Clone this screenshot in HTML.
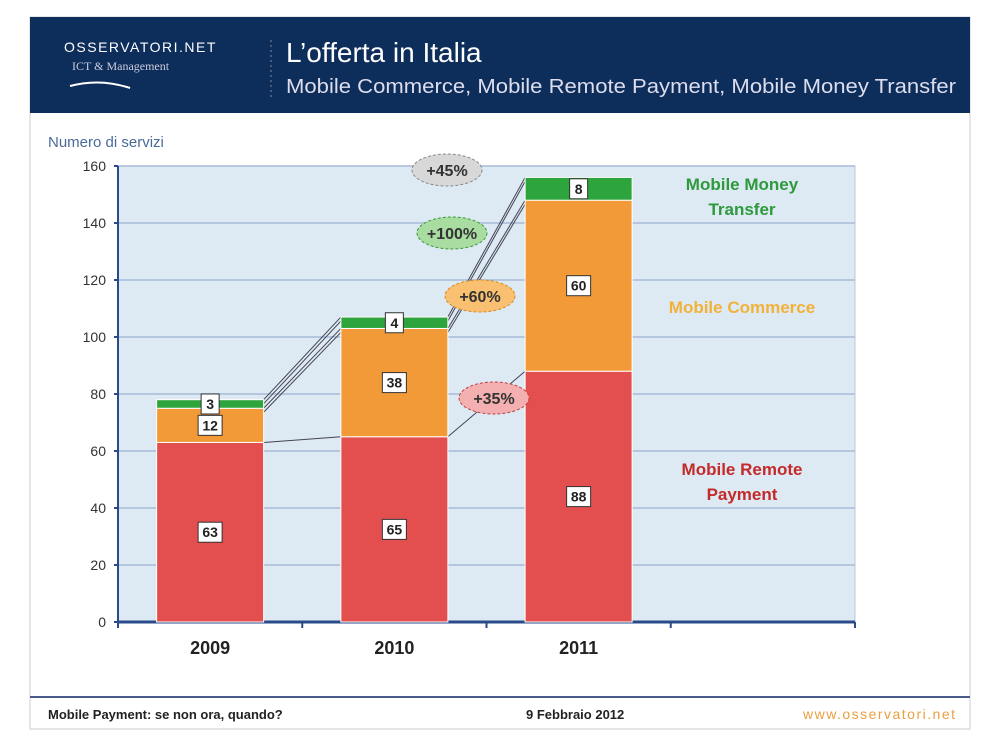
<!DOCTYPE html>
<html><head><meta charset="utf-8"><style>
body{margin:0;width:1000px;height:740px;background:#fff;font-family:"Liberation Sans",sans-serif;overflow:hidden}
</style></head><body>
<svg width="1000" height="740">
<rect x="30" y="17" width="940" height="712" fill="#fff" stroke="#ccc"/>
<rect x="30" y="17" width="940" height="96" fill="#0d2d5a"/>
<text x="64" y="52" fill="#fff" font-size="14" letter-spacing="1.5">OSSERVATORI.NET</text>
<text x="72" y="70" fill="#ccd" font-size="12" font-family="Liberation Serif">ICT &amp; Management</text>
<path d="M70 86 Q100 78 130 88" stroke="#fff" fill="none" stroke-width="2"/>
<line x1="271" y1="40" x2="271" y2="100" stroke="#889" stroke-dasharray="2,3"/>
<text x="286" y="62" fill="#fff" font-size="28">L’offerta in Italia</text>
<text x="286" y="93" fill="#dde" font-size="20" textLength="670" lengthAdjust="spacingAndGlyphs">Mobile Commerce, Mobile Remote Payment, Mobile Money Transfer</text>
<text x="48" y="147" fill="#4a6a9a" font-size="15">Numero di servizi</text>
<g id="chart"></g>
<line x1="30" y1="697" x2="970" y2="697" stroke="#4a5a8a" stroke-width="2"/>
<text x="48" y="719" font-size="13" font-weight="bold" fill="#222">Mobile Payment: se non ora, quando?</text>
<text x="526" y="719" font-size="13" font-weight="bold" fill="#222">9 Febbraio 2012</text>
<text x="803" y="719" font-size="14" fill="#e8a040" textLength="152">www.osservatori.net</text>
</svg>
<script>
const categories=["2009","2010","2011"];
const remote=[63,65,88];
const commerce=[12,38,60];
const money=[3,4,8];
const yTicks=[0,20,40,60,80,100,120,140,160];
const growth=["+45%","+100%","+60%","+35%"];
const NS="http://www.w3.org/2000/svg";
const g=document.getElementById("chart");
const X0=118,X1=855,Y0=622,Y1=166,slot=(X1-X0)/4,bw=107;
const y=v=>Y0-(v/160)*(Y0-Y1);
const cx=i=>X0+slot*(i+0.5);
function el(t,a,txt){const e=document.createElementNS(NS,t);for(const k in a)e.setAttribute(k,a[k]);if(txt!=null)e.textContent=txt;g.appendChild(e);return e;}
let e=el("rect",{x:X0,y:Y1,width:X1-X0,height:Y0-Y1,fill:"#dde9f3",stroke:"#b8c8d8"});


yTicks.forEach(t=>{el("line",{x1:X0,x2:X1,y1:y(t),y2:y(t),stroke:"#a8bcd8","stroke-width":1.5});
e=el("text",{x:X0-12,y:y(t)+5,"text-anchor":"end","font-size":14,fill:"#333"},t);


el("line",{x1:X0-4,x2:X0,y1:y(t),y2:y(t),stroke:"#2a4a8a","stroke-width":2});});
el("line",{x1:X0,x2:X0,y1:Y1,y2:Y0,stroke:"#2a4a8a","stroke-width":2});
el("line",{x1:X0,x2:X1,y1:Y0,y2:Y0,stroke:"#2a4a8a","stroke-width":3});
for(let k=0;k<=4;k++)el("line",{x1:X0+slot*k,x2:X0+slot*k,y1:Y0,y2:Y0+6,stroke:"#2a4a8a","stroke-width":2});
const tops=[remote,remote.map((v,i)=>v+commerce[i]),remote.map((v,i)=>v+commerce[i]+money[i])];
for(let i=0;i<2;i++){tops.forEach((arr,s)=>{
 el("line",{x1:cx(i)+bw/2,y1:y(arr[i]),x2:cx(i+1)-bw/2,y2:y(arr[i+1]),stroke:"#445","stroke-width":1});
 if(s>0)el("line",{x1:cx(i)+bw/2,y1:y(arr[i])+4,x2:cx(i+1)-bw/2,y2:y(arr[i+1])+4,stroke:"#445","stroke-width":1});});}
categories.forEach((c,i)=>{
 const segs=[[remote[i],0,"#e34f4f"],[commerce[i],remote[i],"#f39a38"],[money[i],remote[i]+commerce[i],"#2ea43c"]];
 const names=["remote","commerce","money"];
 segs.forEach((s,j)=>{
  e=el("rect",{x:cx(i)-bw/2,y:y(s[1]+s[0]),width:bw,height:y(s[1])-y(s[1]+s[0]),fill:s[2],stroke:"#fff","stroke-width":1});
  
  
  const my=(y(s[1])+y(s[1]+s[0]))/2;
  const lw=j==2?18:24;
  el("rect",{x:cx(i)-lw/2,y:my-10,width:lw,height:20,fill:"#fff",stroke:"#333"});
  e=el("text",{x:cx(i),y:my+5,"text-anchor":"middle","font-size":14,"font-weight":"bold",fill:"#222"},s[0]);
  
  
 });
 e=el("text",{x:cx(i),y:654,"text-anchor":"middle","font-size":18,"font-weight":"bold",fill:"#222"},c);
 
 
});
const bub=[[447,170,"#d8d8d8","#888"],[452,233,"#a8dca0","#3a9a3a"],[480,296,"#f8c070","#d88a20"],[494,398,"#f4b0b0","#c04040"]];
growth.forEach((t,k)=>{const b=bub[k];
 el("ellipse",{cx:b[0],cy:b[1],rx:35,ry:16,fill:b[2],stroke:b[3],"stroke-dasharray":"3,2"});
 e=el("text",{x:b[0],y:b[1]+6,"text-anchor":"middle","font-size":16,"font-weight":"bold",fill:"#333"},t);
 
 });
const leg=[["Mobile Money",190,"#2e9a3c"],["Transfer",215,"#2e9a3c"],["Mobile Commerce",313,"#f2b23a"],["Mobile Remote",475,"#c42a2a"],["Payment",500,"#c42a2a"]];
leg.forEach(l=>{e=el("text",{x:742,y:l[1],"text-anchor":"middle","font-size":17,"font-weight":"bold",fill:l[2]},l[0]);
 
 });
</script>
</body></html>
